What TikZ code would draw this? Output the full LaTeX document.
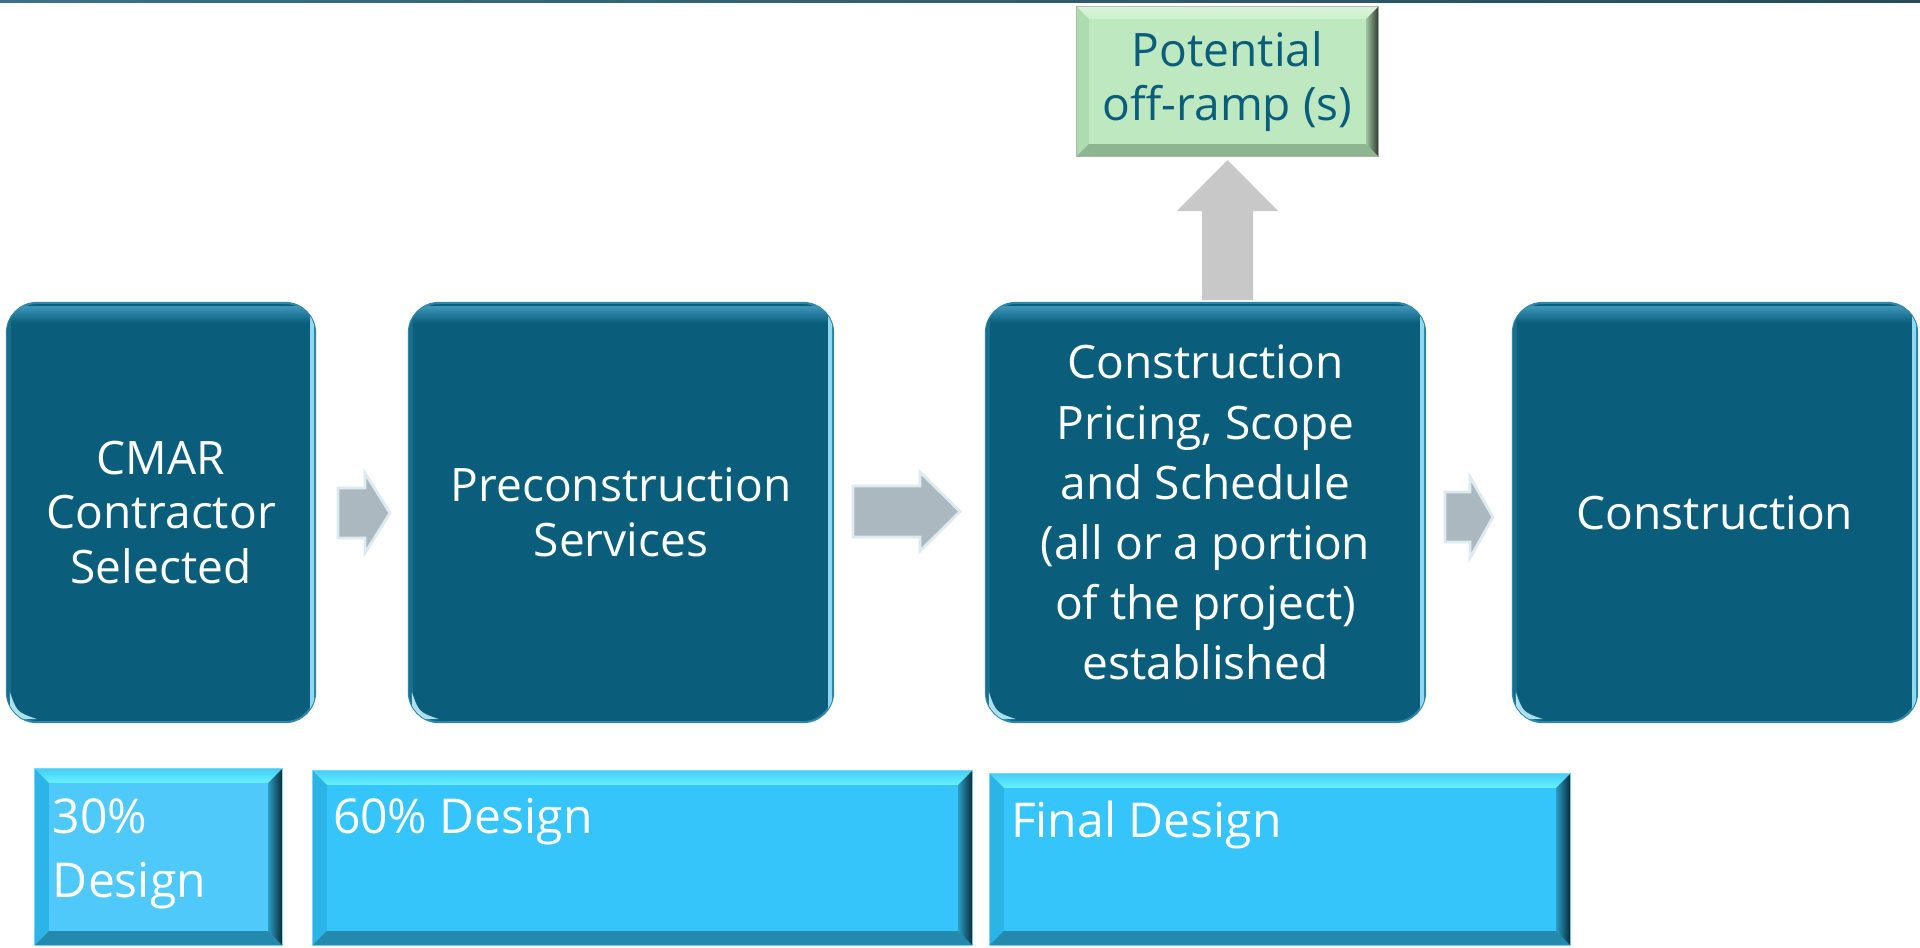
\documentclass[tikz,border=0pt]{standalone}
\usepackage{fontspec}
\setmainfont{Open Sans}
\usetikzlibrary{calc}
\definecolor{boxteal}{HTML}{0B5E7B}
\definecolor{boxedge}{HTML}{2E86A8}
\definecolor{glosstop}{HTML}{3A93B6}
\definecolor{glossright}{HTML}{8FD8F0}
\definecolor{glosscorner}{HTML}{BFEFFA}
\definecolor{topA}{HTML}{3D6F86}
\definecolor{topB}{HTML}{264C59}
\definecolor{lowA}{HTML}{4FC8FA}
\definecolor{lowB}{HTML}{35C5FA}
\definecolor{lowtop}{HTML}{66F2FF}
\definecolor{lowtopout}{HTML}{45CFF5}
\definecolor{lowleft}{HTML}{2DB4E6}
\definecolor{lowbottom}{HTML}{2389AD}
\definecolor{lowrightin}{HTML}{2A9CC4}
\definecolor{lowrightout}{HTML}{0A2C3A}
\definecolor{greenface}{HTML}{BDE8C0}
\definecolor{greentop}{HTML}{D8F4D9}
\definecolor{greenleft}{HTML}{AEDCB1}
\definecolor{greenbottom}{HTML}{8DB590}
\definecolor{greenrightin}{HTML}{9CC49F}
\definecolor{greenrightout}{HTML}{333D33}
\definecolor{arrowgray}{HTML}{ABB8BF}
\definecolor{arrowedge}{HTML}{DDEBF0}
\definecolor{upgray}{HTML}{C8C8C8}
\newcommand\glossit[1]{%
  \begin{scope}
    \clip[rounded corners=0.3cm] (#1.south west) rectangle (#1.north east);
    \shade[top color=glosstop, bottom color=boxteal] ([yshift=-0.04cm]#1.north west) rectangle ([yshift=-0.2cm]#1.north east);
    \fill[glossright] ([xshift=-0.05cm]#1.north east) rectangle ([xshift=-0.015cm]#1.south east);
    \fill[boxteal!70!glosstop] (#1.north west) rectangle ([xshift=0.04cm]#1.south west);
    \fill[glosscorner, opacity=0.9]
      ([xshift=0.03cm,yshift=0.3cm]#1.south west) .. controls ([xshift=0.03cm,yshift=0.03cm]#1.south west) .. ([xshift=0.3cm,yshift=0.03cm]#1.south west)
      .. controls ([xshift=0.1cm,yshift=0.1cm]#1.south west) .. ([xshift=0.03cm,yshift=0.3cm]#1.south west) -- cycle;
  \end{scope}
}
\newcommand\bevelit[8]{%
  \shade[top color=#3, bottom color=#4] (#1.north west) -- (#1.north east) -- ([xshift=-#2,yshift=-#2]#1.north east) -- ([xshift=#2,yshift=-#2]#1.north west) -- cycle;
  \fill[#5] (#1.north west) -- ([xshift=#2,yshift=-#2]#1.north west) -- ([xshift=#2,yshift=#2]#1.south west) -- (#1.south west) -- cycle;
  \fill[#6] (#1.south west) -- ([xshift=#2,yshift=#2]#1.south west) -- ([xshift=-#2,yshift=#2]#1.south east) -- (#1.south east) -- cycle;
  \shade[left color=#7, right color=#8] (#1.north east) -- ([xshift=-#2,yshift=-#2]#1.north east) -- ([xshift=-#2,yshift=#2]#1.south east) -- (#1.south east) -- cycle;
}
\begin{document}
\begin{tikzpicture}[x=0.01cm,y=-0.01cm,
  bigbox/.style={rectangle, rounded corners=0.3cm, fill=boxteal, draw=boxedge, line width=0.6pt,
    minimum height=4.19cm, inner sep=0pt, outer sep=0pt, text=white, align=center,
    font=\fontsize{13.1}{15.6}\selectfont},
  lowbox/.style={rectangle, draw=lowA!70!white, line width=0.4pt, inner sep=0pt, outer sep=0pt},
  lowtext/.style={inner sep=0pt, outer sep=0pt, text=white, align=left, anchor=base west,
    font=\fontsize{13.66}{18.2}\selectfont},
  greenbox/.style={rectangle, fill=greenface, draw=gray!60, line width=0.4pt, inner sep=0pt, outer sep=0pt,
    minimum width=3.01cm, minimum height=1.49cm},
  blockarrow/.style={fill=arrowgray, draw=arrowedge, line width=0.8pt, line join=miter},
]
\useasboundingbox (0,0) rectangle (1920,947);
\fill[white] (0,0) rectangle (1920,947);
\shade[left color=topA, right color=topB] (0,0) rectangle (1920,2.5);

% main process boxes
\node[bigbox, minimum width=3.08cm] (cmar) at (161,512.5) {CMAR\\Contractor\\Selected};
\node[bigbox, minimum width=4.24cm] (pre) at (621,512.5) {Preconstruction\\Services};
\node[bigbox, minimum width=4.39cm, font=\fontsize{13.1}{17.1}\selectfont] (price) at (1205.5,512.5)
  {Construction\\Pricing, Scope\\and Schedule\\(all or a portion\\of the project)\\established};
\node[bigbox, minimum width=4.04cm] (cons) at (1715,512.5) {Construction};
\glossit{cmar}
\glossit{pre}
\glossit{price}
\glossit{cons}

% block arrows between boxes
\draw[blockarrow] (338,488) -- (365,488) -- (365,473) -- (390,513) -- (365,553) -- (365,538) -- (338,538) -- cycle;
\draw[blockarrow] (853,486) -- (920,486) -- (920,472) -- (960,511.5) -- (920,551) -- (920,537) -- (853,537) -- cycle;
\draw[blockarrow] (1445,492) -- (1470,492) -- (1470,477) -- (1493,517) -- (1470,558) -- (1470,542) -- (1445,542) -- cycle;

% up arrow to off-ramp
\fill[upgray] (1202,300) -- (1202,211) -- (1177,211) -- (1227.5,160) -- (1278,211) -- (1253,211) -- (1253,300) -- cycle;

% off-ramp box
\node[greenbox] (ramp) at (1227.5,81.5) {};
\bevelit{ramp}{0.12cm}{greentop}{greentop!60!greenface}{greenleft}{greenbottom}{greenrightin}{greenrightout}
\node[inner sep=0pt, text=boxteal, align=center, font=\fontsize{13.1}{15.4}\selectfont] (rampt) at (1227.5,81.5) {Potential\\off-ramp (s)};

% design stage bars
\node[lowbox, fill=lowA, minimum width=2.47cm, minimum height=1.76cm] (d30) at (158.5,857) {};
\node[lowbox, fill=lowB, minimum width=6.59cm, minimum height=1.74cm] (d60) at (642.5,858) {};
\node[lowbox, fill=lowB, minimum width=5.80cm, minimum height=1.71cm] (dfin) at (1280,859.5) {};
\bevelit{d30}{0.14cm}{lowtopout}{lowtop}{lowleft}{lowbottom}{lowrightin}{lowrightout}
\bevelit{d60}{0.14cm}{lowtopout}{lowtop}{lowleft}{lowbottom}{lowrightin}{lowrightout}
\bevelit{dfin}{0.14cm}{lowtopout}{lowtop}{lowleft}{lowbottom}{lowrightin}{lowrightout}
\node[lowtext] (d30t) at (53,897) {30\%\\Design};
\node[lowtext] (d60t) at (333,833) {60\% Design};
\node[lowtext] (dfint) at (1011,837) {Final Design};
\end{tikzpicture}
\end{document}
